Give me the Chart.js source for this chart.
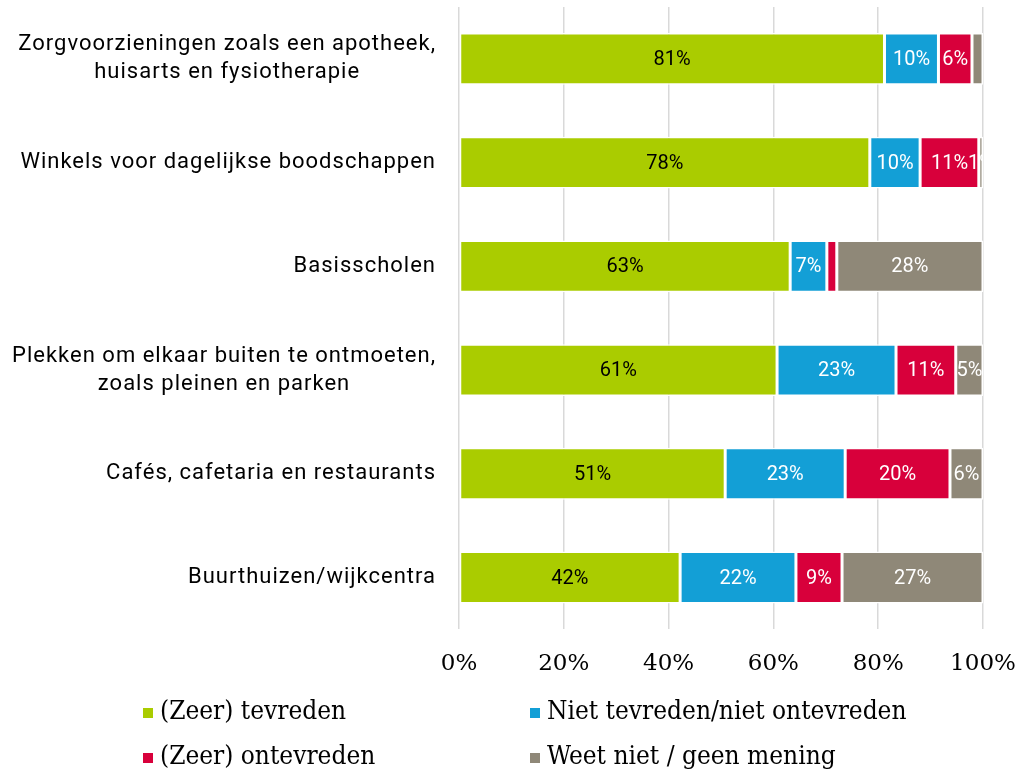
<!DOCTYPE html>
<html>
<head>
<meta charset="utf-8">
<script src="https://cdn.jsdelivr.net/npm/chart.js@4/dist/chart.umd.min.js"></script>
<style>
  html, body { margin: 0; padding: 0; background: #fff; }
  #wrap { width: 1020px; height: 772px; position: relative; }
</style>
</head>
<body>
<div id="wrap"><canvas id="chart"></canvas></div>
<script>
// categories (multi-line labels)
var categories = [
  ['Zorgvoorzieningen zoals een apotheek,', 'huisarts en fysiotherapie'],
  ['Winkels voor dagelijkse boodschappen'],
  ['Basisscholen'],
  ['Plekken om elkaar buiten te ontmoeten,', 'zoals pleinen en parken'],
  ['Cafés, cafetaria en restaurants'],
  ['Buurthuizen/wijkcentra']
];

var seriesNames = ['(Zeer) tevreden', 'Niet tevreden/niet ontevreden', '(Zeer) ontevreden', 'Weet niet / geen mening'];

var tevreden   = [81.2, 78.4, 63.2, 60.7, 50.8, 42.2];
var neutraal   = [10.3,  9.6,  7.0, 22.7, 22.9, 22.1];
var ontevreden = [ 6.4, 11.2,  1.9, 11.4, 20.0,  8.8];
var weetNiet   = [ 2.1,  0.8, 27.9,  5.2,  6.3, 26.9];

var xTicks = [0, 20, 40, 60, 80, 100];

// labels that are not shown in the original: [dataset, category]
var hiddenLabels = [[3, 0], [2, 2]];

var colors = ['#aacc00', '#139fd6', '#d8003b', '#8f8878'];
var labelColors = ['#000', '#fff', '#fff', '#fff'];

var allSeries = [tevreden, neutraal, ontevreden, weetNiet];
var datasets = [];
for (var i = 0; i < allSeries.length; i++) {
  datasets.push({
    label: seriesNames[i],
    data: allSeries[i],
    backgroundColor: colors[i],
    borderColor: '#ffffff',
    borderWidth: 1.5,
    borderSkipped: false,
    barPercentage: 0.5,
    categoryPercentage: 1.0
  });
}

function isHidden(d, c) {
  for (var k = 0; k < hiddenLabels.length; k++) {
    if (hiddenLabels[k][0] == d && hiddenLabels[k][1] == c) return true;
  }
  return false;
}

// value labels inside the bars
var barLabels = {
  id: 'barLabels',
  afterDatasetsDraw: function(chart) {
    var ctx = chart.ctx;
    var area = chart.chartArea;
    ctx.save();
    ctx.beginPath();
    ctx.rect(area.left, area.top, area.right - area.left, area.bottom - area.top);
    ctx.clip();
    ctx.font = '20px Roboto';
    ctx.textAlign = 'center';
    ctx.textBaseline = 'middle';
    chart.data.datasets.forEach(function(ds, d) {
      var meta = chart.getDatasetMeta(d);
      meta.data.forEach(function(bar, c) {
        if (isHidden(d, c)) return;
        var x = (bar.x + bar.base) / 2;
        ctx.fillStyle = labelColors[d];
        ctx.fillText(Math.round(ds.data[c]) + '%', x, bar.y + 1);
      });
    });
    ctx.restore();
  }
};

// category labels: block right aligned, lines centred inside the block
var catLabels = {
  id: 'catLabels',
  afterDraw: function(chart) {
    var ctx = chart.ctx;
    var y = chart.scales.y;
    var right = chart.chartArea.left - 23;
    var lh = 28;
    ctx.save();
    ctx.font = '22px Roboto';
    ctx.letterSpacing = '1px';
    ctx.fillStyle = '#000';
    ctx.textAlign = 'center';
    ctx.textBaseline = 'middle';
    categories.forEach(function(lines, i) {
      var w = 0;
      lines.forEach(function(l) { w = Math.max(w, ctx.measureText(l).width); });
      var cx = right - w / 2;
      var cy = y.getPixelForTick(i) - (lines.length - 1) * lh / 2;
      lines.forEach(function(l, j) { ctx.fillText(l, cx, cy + j * lh); });
    });
    ctx.restore();
  }
};

// legend in a 2x2 grid
var gridLegend = {
  id: 'gridLegend',
  afterDraw: function(chart) {
    var ctx = chart.ctx;
    var colX = [143, 530];
    var rowY = [712, 757];
    ctx.save();
    ctx.font = '26px "DejaVu Serif Condensed", "DejaVu Serif", serif';
    ctx.textAlign = 'left';
    ctx.textBaseline = 'middle';
    chart.data.datasets.forEach(function(ds, i) {
      var x = colX[i % 2];
      var yy = rowY[Math.floor(i / 2)];
      ctx.fillStyle = ds.backgroundColor;
      ctx.fillRect(x, yy - 4, 10, 10);
      ctx.fillStyle = '#000';
      ctx.fillText(ds.label, x + 17, yy);
    });
    ctx.restore();
  }
};

var ctx = document.getElementById('chart');
var chart = new Chart(ctx, {
  type: 'bar',
  data: {
    labels: categories,
    datasets: datasets
  },
  options: {
    indexAxis: 'y',
    responsive: true,
    maintainAspectRatio: false,
    animation: false,
    layout: { padding: { top: 7, right: 37, bottom: 73, left: 0 } },
    plugins: {
      legend: { display: false },
      tooltip: { enabled: false }
    },
    scales: {
      x: {
        stacked: true,
        min: 0,
        max: 100,
        afterBuildTicks: function(scale) {
          scale.ticks = xTicks.map(function(v) { return { value: v }; });
        },
        afterFit: function(scale) {
          scale.paddingLeft = 0;
          scale.paddingRight = 0;
        },
        grid: { color: '#d9d9d9', lineWidth: 1.5, drawTicks: false },
        border: { display: false },
        ticks: {
          padding: 21,
          color: '#000',
          font: { family: '"DejaVu Serif"', size: 23 },
          callback: function(v) { return v + '%'; }
        }
      },
      y: {
        stacked: true,
        grid: { display: false },
        border: { display: false },
        ticks: { display: false },
        afterFit: function(scale) { scale.width = 459; }
      }
    }
  },
  plugins: [barLabels, catLabels, gridLegend]
});
</script>
</body>
</html>
